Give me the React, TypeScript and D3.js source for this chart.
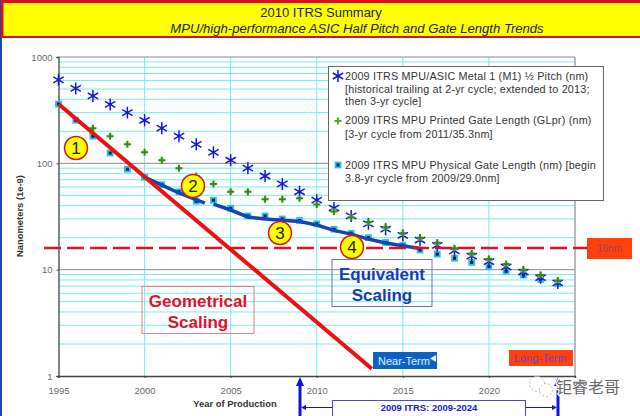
import { useEffect, useRef } from "react";
import * as d3 from "d3";

const years = d3.range(1995, 2025);
const pitchValues = [
  610, 507, 430, 358, 300, 254, 214, 180, 151, 127, 107, 90, 76, 64, 54, 45, 38,
  32, 27, 24, 21, 19, 16.9, 15, 13.4, 11.9, 10.6, 9.5, 8.4, 7.5,
];
const printedYears = d3.range(1997, 2025);
const printedValues = [
  214, 180, 151, 127, 107, 90, 76, 64, 54, 54, 46, 46, 47, 41, 35.3, 31, 28, 25,
  22, 20, 17.9, 15.9, 14.2, 12.6, 11.3, 10, 8.9, 7.9,
];
const physicalValues = [
  361, 254, 180, 125, 88, 74, 63, 54, 44, 45, 37.8, 32, 32, 30, 29, 27, 24, 22,
  20, 18, 17, 15.3, 14, 12.8, 11.7, 10.7, 9.7, 8.9, 8.1, 7.4,
];

// red "geometrical scaling" line and the two thick blue trend strokes
const geoYears = [1995, 2013.2];
const geoValues = [361, 1.17];
const trendAYears = [2000, 2001, 2002, 2003.5];
const trendAValues = [74.3, 62.5, 52.6, 42.3];
const trendBYears = [2004, 2005, 2006, 2007, 2009, 2010, 2011, 2012, 2013, 2014, 2016];
const trendBValues = [41.4, 36.4, 31.3, 29.9, 28.4, 26.3, 23.4, 21.6, 19.4, 17.8, 15.8];

const xTicks = [1995, 2000, 2005, 2010, 2015, 2020];
const yMajor = [1, 10, 100, 1000];
const yMinor = [1, 10, 100].flatMap((d) => d3.range(2, 10).map((m) => m * d));

const legendPitch = [
  "2009 ITRS MPU/ASIC Metal 1 (M1) ½ Pitch (nm)",
  "[historical trailing at 2-yr cycle; extended to 2013;",
  "then 3-yr cycle]",
];
const legendPrinted = [
  "2009 ITRS MPU Printed Gate Length (GLpr) (nm)",
  "[3-yr cycle from 2011/35.3nm]",
];
const legendPhysical = [
  "2009 ITRS MPU Physical Gate Length (nm) [begin",
  "3.8-yr cycle from 2009/29.0nm]",
];

const SANS = "'Liberation Sans', Arial, sans-serif";

export default function App() {
  const svgRef = useRef<SVGSVGElement>(null);

  useEffect(() => {
    if (!svgRef.current) return;
    const svg = d3.select(svgRef.current);
    svg.selectAll("*").remove();
    svg.attr("font-family", SANS);

    const x = d3.scaleLinear().domain([1995, 2025]).range([58.5, 575]);
    const y = d3.scaleLog().domain([1, 1000]).range([376, 57]);

    svg.append("rect").attr("width", 640).attr("height", 416).attr("fill", "#fff");

    // page stripe and header
    svg.append("rect").attr("width", 2).attr("height", 416).attr("fill", "#1a4aa8");
    svg.append("rect").attr("x", 1).attr("width", 639).attr("height", 38).attr("fill", "#d8101c");
    svg.append("rect").attr("x", 3.5).attr("y", 3).attr("width", 637).attr("height", 33).attr("fill", "#ffff00");
    svg.append("text").attr("x", 321).attr("y", 17).attr("text-anchor", "middle")
      .attr("font-size", 13).attr("fill", "#222").text("2010 ITRS Summary");
    svg.append("text").attr("x", 357).attr("y", 32.5).attr("text-anchor", "middle")
      .attr("font-size", 13.1).attr("font-style", "italic").attr("fill", "#222")
      .text("MPU/high-performance ASIC Half Pitch and Gate Length Trends");

    // grid
    const grid = svg.append("g");
    grid.selectAll("line.minor").data(yMinor).join("line").attr("class", "minor")
      .attr("x1", x(1995)).attr("x2", x(2025))
      .attr("y1", (d) => y(d)).attr("y2", (d) => y(d))
      .attr("stroke", "#74eeee").attr("stroke-width", 1);
    grid.selectAll("line.vert").data([2000, 2005, 2010, 2015, 2020]).join("line").attr("class", "vert")
      .attr("x1", (d) => x(d)).attr("x2", (d) => x(d))
      .attr("y1", y(1000)).attr("y2", y(1))
      .attr("stroke", "#74eeee").attr("stroke-width", 1);
    grid.selectAll("line.major").data(yMajor.slice(1)).join("line").attr("class", "major")
      .attr("x1", x(1995)).attr("x2", x(2025))
      .attr("y1", (d) => y(d)).attr("y2", (d) => y(d))
      .attr("stroke", "#8c8c8c").attr("stroke-width", 1);
    svg.append("line").attr("x1", x(2025)).attr("x2", x(2025)).attr("y1", y(1000)).attr("y2", y(1))
      .attr("stroke", "#8c8c8c").attr("stroke-width", 1.2);

    // axes
    const xAxis = svg.append("g").attr("transform", `translate(0,${y(1)})`)
      .call(d3.axisBottom(x).tickValues(xTicks).tickFormat(d3.format("d")).tickSize(2).tickPadding(9));
    const yAxis = svg.append("g").attr("transform", `translate(${x(1995)},0)`)
      .call(d3.axisLeft(y).tickValues(yMajor).tickFormat(d3.format("d")).tickSize(2).tickPadding(4));
    [xAxis, yAxis].forEach((a) => {
      a.selectAll(".domain").attr("stroke", "#444").attr("stroke-width", 1.3);
      a.selectAll("line").attr("stroke", "#444");
      a.selectAll("text").attr("fill", "#6a6a6a").attr("font-size", 9.5).attr("font-family", SANS);
    });

    svg.append("text").attr("x", 235).attr("y", 407).attr("text-anchor", "middle")
      .attr("font-size", 9.4).attr("font-weight", "bold").attr("fill", "#333").text("Year of Production");
    svg.append("text").attr("transform", "translate(23,216) rotate(-90)").attr("text-anchor", "middle")
      .attr("font-size", 9.4).attr("font-weight", "bold").attr("fill", "#333").text("Nanometers (1e-9)");

    // series markers (plus and asterisk are stroke-based symbols)
    const squareD = d3.symbol(d3.symbolSquare, 46)()!;
    const innerD = d3.symbol(d3.symbolSquare, 9)()!;
    const plusD = d3.symbol(d3.symbolPlus, 18)()!;
    const haloD = d3.symbol(d3.symbolSquare, 30)()!;
    const starD = d3.symbol(d3.symbolAsterisk, 100)()!;

    const physical = svg.append("g").selectAll("g").data(physicalValues).join("g")
      .attr("transform", (d, i) => `translate(${x(years[i])},${y(d)})`);
    physical.append("path").attr("d", squareD).attr("fill", "#22c4e8");
    physical.append("path").attr("d", innerD).attr("fill", "#101030");

    svg.append("g").selectAll("path").data(pitchValues).join("path")
      .attr("transform", (d, i) => `translate(${x(years[i])},${y(d)})`)
      .attr("d", starD).attr("fill", "none").attr("stroke", "#1414e0").attr("stroke-width", 1.5);

    const printed = svg.append("g").selectAll("g").data(printedValues).join("g")
      .attr("transform", (d, i) => `translate(${x(printedYears[i])},${y(d)})`);
    printed.append("path").attr("d", haloD).attr("fill", "#e8f060").attr("opacity", 0.6);
    printed.append("path").attr("d", plusD).attr("fill", "none").attr("stroke", "#2a8a2a").attr("stroke-width", 2);

    // trend strokes
    const lineOf = (xs: number[], vs: number[]) =>
      d3.line<number>().x((d) => x(d)).y((_, i) => y(vs[i]))(xs);
    svg.append("path").attr("d", lineOf(trendAYears, trendAValues)).attr("fill", "none")
      .attr("stroke", "#1444b8").attr("stroke-width", 3.5);
    svg.append("path").attr("d", lineOf(trendBYears, trendBValues)).attr("fill", "none")
      .attr("stroke", "#1444b8").attr("stroke-width", 3.5);
    svg.append("path").attr("d", lineOf(geoYears, geoValues)).attr("fill", "none")
      .attr("stroke", "#ee1010").attr("stroke-width", 4);

    // 16nm reference
    svg.append("line").attr("x1", 44).attr("x2", 587).attr("y1", y(16)).attr("y2", y(16))
      .attr("stroke", "#e01020").attr("stroke-width", 2.5).attr("stroke-dasharray", "17 6");
    svg.append("rect").attr("x", 587).attr("y", 238).attr("width", 45).attr("height", 21).attr("fill", "#ff4010");
    svg.append("text").attr("x", 609.5).attr("y", 252).attr("text-anchor", "middle")
      .attr("font-size", 10).attr("fill", "#a04050").text("16nm");

    // legend
    svg.append("rect").attr("x", 328.5).attr("y", 66.5).attr("width", 275).attr("height", 134)
      .attr("fill", "#fff").attr("stroke", "#666").attr("stroke-width", 1);
    const legendText = (lines: string[], ys: number[]) =>
      lines.forEach((t, i) =>
        svg.append("text").attr("x", 345).attr("y", ys[i]).attr("font-size", 10.8)
          .attr("letter-spacing", 0.2).attr("fill", "#333").text(t));
    legendText(legendPitch, [80, 92.5, 105]);
    legendText(legendPrinted, [124, 137.5]);
    legendText(legendPhysical, [169, 182]);
    svg.append("path").attr("transform", "translate(338,76)").attr("d", starD)
      .attr("fill", "none").attr("stroke", "#1414e0").attr("stroke-width", 1.5);
    svg.append("path").attr("transform", "translate(338,121)").attr("d", plusD)
      .attr("fill", "none").attr("stroke", "#5aaa2a").attr("stroke-width", 2);
    const legendSq = svg.append("g").attr("transform", "translate(338,165)");
    legendSq.append("path").attr("d", squareD).attr("fill", "#22c4e8");
    legendSq.append("path").attr("d", innerD).attr("fill", "#101030");

    // numbered callouts
    const callouts: [string, number, number][] = [["1", 76, 148], ["2", 193, 186], ["3", 280, 233], ["4", 352, 247]];
    callouts.forEach(([t, cx, cy]) => {
      svg.append("circle").attr("cx", cx).attr("cy", cy).attr("r", 11.5)
        .attr("fill", "#ffff00").attr("stroke", "#d81818").attr("stroke-width", 1.5);
      svg.append("text").attr("x", cx).attr("y", cy + 6).attr("text-anchor", "middle")
        .attr("font-size", 17).attr("fill", "#222").text(t);
    });

    // scaling boxes
    const scalingBox = (bx: number, by: number, w: number, h: number, stroke: string, fill: string, lines: string[]) => {
      svg.append("rect").attr("x", bx).attr("y", by).attr("width", w).attr("height", h)
        .attr("fill", "none").attr("stroke", stroke);
      lines.forEach((t, i) =>
        svg.append("text").attr("x", bx + w / 2).attr("y", by + 20 + i * 21).attr("text-anchor", "middle")
          .attr("font-size", 17).attr("font-weight", "bold").attr("fill", fill).text(t));
    };
    scalingBox(142, 286.5, 112, 47, "#e08088", "#e01030", ["Geometrical", "Scaling"]);
    scalingBox(332, 259.5, 100, 47, "#6a70c0", "#1a3ab0", ["Equivalent", "Scaling"]);

    // near / long term tags
    svg.append("rect").attr("x", 373).attr("y", 352).attr("width", 64).attr("height", 17).attr("fill", "#0a62c4");
    svg.append("text").attr("x", 378).attr("y", 365).attr("font-size", 11).attr("fill", "#e8f0ff").text("Near-Term");
    svg.append("path").attr("d", "M430,358.5 L436,355 L436,362 Z").attr("fill", "#e8f0ff");
    svg.append("rect").attr("x", 509).attr("y", 350).attr("width", 64).attr("height", 16).attr("fill", "#ff4010");
    svg.append("text").attr("x", 514).attr("y", 362).attr("font-size", 11).attr("fill", "#6a4ab0").text("Long-Term");

    // ITRS range arrows
    const blue = "#1010e0";
    svg.append("line").attr("x1", 300).attr("x2", 300).attr("y1", 384).attr("y2", 416).attr("stroke", blue).attr("stroke-width", 3);
    svg.append("path").attr("d", "M300,377 L304,386 L296,386 Z").attr("fill", blue);
    svg.append("line").attr("x1", 558).attr("x2", 558).attr("y1", 384).attr("y2", 416).attr("stroke", blue).attr("stroke-width", 3);
    svg.append("path").attr("d", "M558,377 L562,386 L554,386 Z").attr("fill", blue);
    svg.append("line").attr("x1", 302).attr("x2", 332).attr("y1", 407.5).attr("y2", 407.5).attr("stroke", blue);
    svg.append("path").attr("d", "M301,407.5 L306,405 L306,410 Z").attr("fill", blue);
    svg.append("line").attr("x1", 526).attr("x2", 555).attr("y1", 407.5).attr("y2", 407.5).attr("stroke", blue);
    svg.append("path").attr("d", "M557,407.5 L552,405 L552,410 Z").attr("fill", blue);
    svg.append("rect").attr("x", 332.5).attr("y", 400.5).attr("width", 193).attr("height", 20)
      .attr("fill", "#fff").attr("stroke", "#4a4ad0");
    svg.append("text").attr("x", 429).attr("y", 411).attr("text-anchor", "middle")
      .attr("font-size", 9.5).attr("font-weight", "bold").attr("fill", "#2020c8").text("2009 ITRS:  2009-2024");

    // watermark
    svg.append("circle").attr("cx", 537).attr("cy", 384).attr("r", 7.5).attr("fill", "#fff")
      .attr("stroke", "#b8b8b8").attr("stroke-dasharray", "2 2");
    svg.append("circle").attr("cx", 546).attr("cy", 390).attr("r", 6.5).attr("fill", "#fff")
      .attr("stroke", "#b8b8b8").attr("stroke-dasharray", "2 2");
    svg.append("text").attr("x", 556).attr("y", 393).attr("font-family", "'Noto Sans CJK SC'")
      .attr("font-size", 16).attr("fill", "#666").attr("stroke", "#fff").attr("stroke-width", 2.5)
      .attr("paint-order", "stroke").text("钜睿老哥");
  }, []);

  return (
    <svg
      ref={svgRef}
      width={640}
      height={416}
      style={{ position: "absolute", left: 0, top: 0 }}
    />
  );
}
